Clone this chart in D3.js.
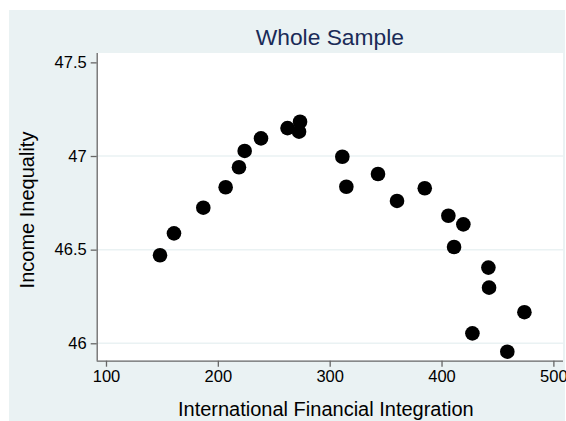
<!DOCTYPE html>
<html>
<head>
<meta charset="utf-8">
<script src="https://cdn.jsdelivr.net/npm/d3@7"></script>
<style>
  body { margin: 0; background: #fff; }
  svg { display: block; font-family: "Liberation Sans", Arial, sans-serif; }
</style>
</head>
<body>
<div class="chart"></div>
<script>
// values
const ifi = [148.3, 160.8, 187.0, 207.0, 218.9, 224.0, 238.6, 262.3, 273.5, 272.6,
  311.3, 314.9, 343.2, 360.2, 385.0, 406.1, 419.5, 411.2, 441.9, 442.5, 474.1, 427.6, 458.8];
const inequality = [46.470, 46.587, 46.724, 46.833, 46.940, 47.027, 47.094, 47.149, 47.183, 47.130,
  46.996, 46.836, 46.904, 46.760, 46.828, 46.681, 46.635, 46.514, 46.404, 46.297, 46.166, 46.053, 45.955];
const xTicks = [100, 200, 300, 400, 500];
const yTicks = [46, 46.5, 47, 47.5];
const yGrid = [46, 46.5, 47];

const width = 566,
    height = 421,
    plotLeft = 96.7,
    plotRight = 563,
    plotTop = 53,
    plotBottom = 360.7;

const svg = d3.select(".chart").append("svg")
    .attr("width", width)
    .attr("height", height);

// outer background
svg.append("rect")
    .attr("x", 9).attr("y", 10)
    .attr("width", 556).attr("height", height - 10)
    .attr("fill", "#eaf2f3");

svg.append("rect")
    .attr("x", plotLeft).attr("y", plotTop)
    .attr("width", plotRight - plotLeft).attr("height", plotBottom - plotTop)
    .attr("fill", "#fff");

const x = d3.scaleLinear().domain([91.7, 508.6]).range([plotLeft, plotRight]);
const y = d3.scaleLinear().domain([45.907, 47.55]).range([plotBottom, plotTop]);

svg.append("g")
  .selectAll("line")
  .data(yGrid)
  .enter().append("line")
    .attr("x1", plotLeft).attr("x2", plotRight)
    .attr("y1", d => y(d)).attr("y2", d => y(d))
    .attr("stroke", "#eaf2f3")
    .attr("stroke-width", 1.5);

const xAxis = svg.append("g")
    .attr("transform", `translate(0,${plotBottom})`)
    .call(d3.axisBottom(x).tickValues(xTicks).tickSize(6).tickPadding(4).tickFormat(d3.format("d")));

const yAxis = svg.append("g")
    .attr("transform", `translate(${plotLeft},0)`)
    .call(d3.axisLeft(y).tickValues(yTicks).tickSize(6).tickPadding(4).tickFormat(d => d));

[xAxis, yAxis].forEach(g => {
  g.select(".domain").attr("stroke", "#666").attr("stroke-width", 1.3);
  g.selectAll(".tick line").attr("stroke", "#666").attr("stroke-width", 1.3);
  g.selectAll(".tick text")
      .attr("fill", "#000")
      .style("font-size", "16.5px")
      .style("font-family", "'Liberation Sans', Arial, sans-serif");
});
// keep the axis lines flat, no outer ticks
xAxis.select(".domain").attr("d", `M${plotLeft},0.5H${plotRight}`);
yAxis.select(".domain").attr("d", `M0.5,${plotTop}V${plotBottom}`);

svg.append("g")
  .selectAll("circle")
  .data(ifi.map((v, i) => ({ x: v, y: inequality[i] })))
  .enter().append("circle")
    .attr("cx", d => x(d.x))
    .attr("cy", d => y(d.y))
    .attr("r", 7.3)
    .attr("fill", "#000");

svg.append("text")
    .attr("x", (plotLeft + plotRight) / 2)
    .attr("y", 45)
    .attr("text-anchor", "middle")
    .attr("fill", "#1a2b57")
    .style("font-size", "22.8px")
    .text("Whole Sample");

svg.append("text")
    .attr("x", (plotLeft + plotRight) / 2 - 4)
    .attr("y", 416)
    .attr("text-anchor", "middle")
    .attr("fill", "#000")
    .style("font-size", "20px")
    .text("International Financial Integration");

svg.append("text")
    .attr("transform", `translate(34,210) rotate(-90)`)
    .attr("text-anchor", "middle")
    .attr("fill", "#000")
    .style("font-size", "20px")
    .text("Income Inequality");
</script>
</body>
</html>
